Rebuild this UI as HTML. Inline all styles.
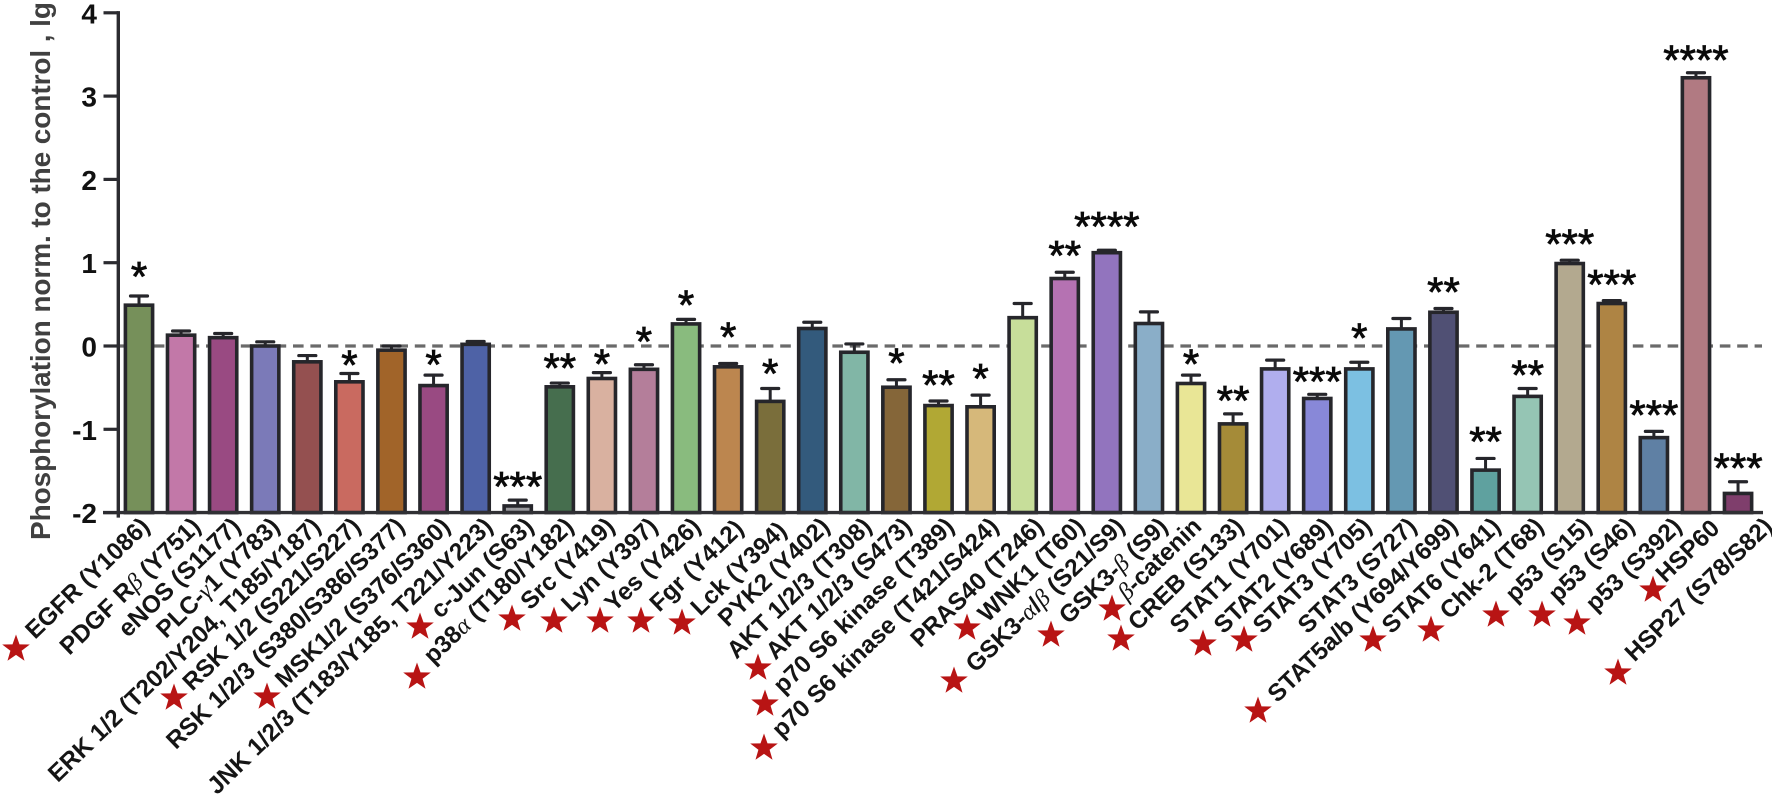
<!DOCTYPE html>
<html lang="en">
<head>
<meta charset="utf-8">
<title>Phosphorylation chart</title>
<style>
  html, body { margin: 0; padding: 0; background: #fff; }
  body { width: 1772px; height: 805px; overflow: hidden; }
  svg { display: block; font-family: "Liberation Sans", Arial, sans-serif; }
  .tick-label { font-size: 28px; font-weight: 700; fill: #111; text-anchor: end; }
  .x-label { font-size: 24.4px; font-weight: 700; fill: #151515; text-anchor: end; }
  .greek { font-family: "Liberation Serif", serif; font-style: italic; font-weight: 400; }
  .sig { font-size: 42px; fill: #0a0a0a; text-anchor: middle; stroke: #0a0a0a; stroke-width: .8px; }
  .star { fill: #b81414; }
</style>
</head>
<body>
<svg id="chart" xmlns="http://www.w3.org/2000/svg" width="1772" height="805" viewBox="0 0 1772 805">
  <defs>
    <polygon id="star-shape" points="0,-14.5 3.5,-4.6 13.8,-4.48 5.6,1.8 8.52,11.73 0,5.9 -8.52,11.73 -5.6,1.8 -13.8,-4.48 -3.5,-4.6"></polygon>
  </defs>
  <text x="50" y="540" transform="rotate(-90 50 540)" font-size="28" font-weight="700" fill="#404040" textLength="538" lengthAdjust="spacing">Phosphorylation norm. to the control , lg</text>
  <g id="grid"></g>
  <g id="bars"></g>
  <g id="axes"></g>
  <g>
    <text class="x-label" transform="translate(151 528) rotate(-44)">EGFR (Y1086)</text>
    <text class="x-label" transform="translate(202 528) rotate(-44)">PDGF R<tspan class="greek">β</tspan> (Y751)</text>
    <text class="x-label" transform="translate(242 528) rotate(-44)">eNOS (S1177)</text>
    <text class="x-label" transform="translate(281 528) rotate(-44)">PLC-<tspan class="greek">γ</tspan>1 (Y783)</text>
    <text class="x-label" transform="translate(322 528) rotate(-44)">ERK 1/2 (T202/Y204, T185/Y187)</text>
    <text class="x-label" transform="translate(362 528) rotate(-44)">RSK 1/2 (S221/S227)</text>
    <text class="x-label" transform="translate(406 528) rotate(-44)">RSK 1/2/3 (S380/S386/S377)</text>
    <text class="x-label" transform="translate(451.5 528) rotate(-44)">MSK1/2 (S376/S360)</text>
    <text class="x-label" transform="translate(494 528) rotate(-44)">JNK 1/2/3 (T183/Y185, T221/Y223)</text>
    <text class="x-label" transform="translate(535 528) rotate(-44)">c-Jun (S63)</text>
    <text class="x-label" transform="translate(575 528) rotate(-44)">p38<tspan class="greek">α</tspan> (T180/Y182)</text>
    <text class="x-label" transform="translate(616 528) rotate(-44)">Src (Y419)</text>
    <text class="x-label" transform="translate(659 528) rotate(-44)">Lyn (Y397)</text>
    <text class="x-label" transform="translate(702 528) rotate(-44)">Yes (Y426)</text>
    <text class="x-label" transform="translate(745 530) rotate(-44)">Fgr (Y412)</text>
    <text class="x-label" transform="translate(788 532) rotate(-44)">Lck (Y394)</text>
    <text class="x-label" transform="translate(831 528) rotate(-44)">PYK2 (Y402)</text>
    <text class="x-label" transform="translate(873 528) rotate(-44)">AKT 1/2/3 (T308)</text>
    <text class="x-label" transform="translate(913 528) rotate(-44)">AKT 1/2/3 (S473)</text>
    <text class="x-label" transform="translate(955.5 528) rotate(-44)">p70 S6 kinase (T389)</text>
    <text class="x-label" transform="translate(1000 528) rotate(-44)">p70 S6 kinase (T421/S424)</text>
    <text class="x-label" transform="translate(1045 528) rotate(-44)">PRAS40 (T246)</text>
    <text class="x-label" transform="translate(1086 528) rotate(-44)">WNK1 (T60)</text>
    <text class="x-label" transform="translate(1126 528) rotate(-44)">GSK3-<tspan class="greek">α</tspan>/<tspan class="greek">β</tspan> (S21/S9)</text>
    <text class="x-label" transform="translate(1169 528) rotate(-44)">GSK3-<tspan class="greek">β</tspan> (S9)</text>
    <text class="x-label" transform="translate(1203 528) rotate(-44)"><tspan class="greek">β</tspan>-catenin</text>
    <text class="x-label" transform="translate(1245 528) rotate(-44)">CREB (S133)</text>
    <text class="x-label" transform="translate(1290 528) rotate(-44)">STAT1 (Y701)</text>
    <text class="x-label" transform="translate(1334 528) rotate(-44)">STAT2 (Y689)</text>
    <text class="x-label" transform="translate(1373 528) rotate(-44)">STAT3 (Y705)</text>
    <text class="x-label" transform="translate(1418 528) rotate(-44)">STAT3 (S727)</text>
    <text class="x-label" transform="translate(1459 528) rotate(-44)">STAT5a/b (Y694/Y699)</text>
    <text class="x-label" transform="translate(1502 528) rotate(-44)">STAT6 (Y641)</text>
    <text class="x-label" transform="translate(1545 528) rotate(-44)">Chk-2 (T68)</text>
    <text class="x-label" transform="translate(1593 528) rotate(-44)">p53 (S15)</text>
    <text class="x-label" transform="translate(1636 528) rotate(-44)">p53 (S46)</text>
    <text class="x-label" transform="translate(1683 528) rotate(-44)">p53 (S392)</text>
    <text class="x-label" transform="translate(1721 530) rotate(-44)">HSP60</text>
    <text class="x-label" transform="translate(1774 528) rotate(-44)">HSP27 (S78/S82)</text>
  </g>
  <g id="sigs"></g>
  <g>
    <use class="star" href="#star-shape" x="16" y="649"></use>
    <use class="star" href="#star-shape" x="174" y="698"></use>
    <use class="star" href="#star-shape" x="267" y="697"></use>
    <use class="star" href="#star-shape" x="420" y="627"></use>
    <use class="star" href="#star-shape" x="417" y="677"></use>
    <use class="star" href="#star-shape" x="512" y="619"></use>
    <use class="star" href="#star-shape" x="554" y="621"></use>
    <use class="star" href="#star-shape" x="600" y="621"></use>
    <use class="star" href="#star-shape" x="641" y="621"></use>
    <use class="star" href="#star-shape" x="682" y="623"></use>
    <use class="star" href="#star-shape" x="758" y="668"></use>
    <use class="star" href="#star-shape" x="765" y="704"></use>
    <use class="star" href="#star-shape" x="764" y="748"></use>
    <use class="star" href="#star-shape" x="967" y="628"></use>
    <use class="star" href="#star-shape" x="954" y="681"></use>
    <use class="star" href="#star-shape" x="1051" y="635"></use>
    <use class="star" href="#star-shape" x="1112" y="609"></use>
    <use class="star" href="#star-shape" x="1121" y="639"></use>
    <use class="star" href="#star-shape" x="1203" y="644"></use>
    <use class="star" href="#star-shape" x="1244" y="640"></use>
    <use class="star" href="#star-shape" x="1258" y="711"></use>
    <use class="star" href="#star-shape" x="1373" y="640"></use>
    <use class="star" href="#star-shape" x="1431" y="630"></use>
    <use class="star" href="#star-shape" x="1496" y="615"></use>
    <use class="star" href="#star-shape" x="1542" y="615"></use>
    <use class="star" href="#star-shape" x="1577" y="623"></use>
    <use class="star" href="#star-shape" x="1653" y="590"></use>
    <use class="star" href="#star-shape" x="1618" y="673"></use>
  </g>
</svg>
<script>
const categories = ["EGFR (Y1086)","PDGF Rβ (Y751)","eNOS (S1177)","PLC-γ1 (Y783)","ERK 1/2 (T202/Y204, T185/Y187)","RSK 1/2 (S221/S227)","RSK 1/2/3 (S380/S386/S377)","MSK1/2 (S376/S360)","JNK 1/2/3 (T183/Y185, T221/Y223)","c-Jun (S63)","p38α (T180/Y182)","Src (Y419)","Lyn (Y397)","Yes (Y426)","Fgr (Y412)","Lck (Y394)","PYK2 (Y402)","AKT 1/2/3 (T308)","AKT 1/2/3 (S473)","p70 S6 kinase (T389)","p70 S6 kinase (T421/S424)","PRAS40 (T246)","WNK1 (T60)","GSK3-α/β (S21/S9)","GSK3-β (S9)","β-catenin","CREB (S133)","STAT1 (Y701)","STAT2 (Y689)","STAT3 (Y705)","STAT3 (S727)","STAT5a/b (Y694/Y699)","STAT6 (Y641)","Chk-2 (T68)","p53 (S15)","p53 (S46)","p53 (S392)","HSP60","HSP27 (S78/S82)"];
const values = [0.49,0.13,0.10,0,-0.19,-0.43,-0.05,-0.475,0.02,-1.92,-0.49,-0.39,-0.28,0.265,-0.25,-0.665,0.21,-0.075,-0.495,-0.715,-0.73,0.34,0.81,1.12,0.27,-0.45,-0.935,-0.275,-0.63,-0.275,0.205,0.405,-1.49,-0.605,0.99,0.51,-1.1,3.22,-1.77];
const errorTops = [0.60,0.18,0.15,0.05,-0.115,-0.33,0,-0.35,0.055,-1.85,-0.445,-0.32,-0.225,0.32,-0.21,-0.51,0.285,0.025,-0.405,-0.66,-0.59,0.51,0.885,1.15,0.41,-0.35,-0.815,-0.17,-0.58,-0.195,0.33,0.45,-1.35,-0.51,1.03,0.545,-1.025,3.28,-1.63];
const significance = ["*","","","","","*","","*","","***","**","*","*","*","*","*","","","*","**","*","","**","****","","*","**","","***","*","","**","**","**","***","***","***","****","***"];
const significanceLevels = [0.89,0,0,0,0,-0.176,0,-0.168,0,-1.63,-0.21,-0.16,0.11,0.545,0.165,-0.275,0,0,-0.15,-0.415,-0.335,0,1.14,1.49,0,-0.16,-0.6,0,-0.375,0.15,0,0.705,-1.09,-0.295,1.28,0.79,-0.775,3.49,-1.41];
const barColors = ["#76905a","#c278a8","#994a82","#7b7ab8","#945050","#c96a60","#a16429","#994a82","#4e62a6","#9a9a9e","#466e4e","#d9b1a0","#b47e9a","#89bb7e","#bc864f","#7a6e3b","#335a7c","#81b6a6","#856639","#b1a834","#d6b87a","#c7de9a","#b572b2","#9274be","#8aaec8","#e9e696","#a58b38","#b0aeee","#8888d8","#7cc0e2","#6498b2","#505074","#5fa19f","#95c5b4","#b3a98f","#ae8444","#5f80a4","#b17a82","#7f3e6c"];
const yTicks = [4,3,2,1,0,-1,-2];

const NS = "http://www.w3.org/2000/svg";
const yScale = v => 346 - 83.3 * v;
const xScale = i => 139 + 42.08 * i;
const DARK = "#26262b";
function mk(tag, parent, attrs) {
  const el = document.createElementNS(NS, tag);
  for (const k in attrs) el.setAttribute(k, attrs[k]);
  parent.appendChild(el);
  return el;
}
const gridG = document.getElementById("grid");
const barsG = document.getElementById("bars");
const axesG = document.getElementById("axes");
const sigsG = document.getElementById("sigs");

const zeroLine = mk("line", gridG, {x1: 119, x2: 1762, y1: yScale(0), y2: yScale(0), stroke: "#6a6a6a", "stroke-width": 3.2, "stroke-dasharray": "10.6 6.8"});



const base = yScale(-2);
categories.forEach((name, i) => {
  const cx = xScale(i);
  const w = 27.2;
  const top = yScale(values[i]);
  const errTop = yScale(errorTops[i]);
  const stem = mk("line", barsG, {x1: cx, x2: cx, y1: errTop, y2: top, stroke: DARK, "stroke-width": 3});
  
  
  const cap = mk("line", barsG, {x1: cx - 8.5, x2: cx + 8.5, y1: errTop, y2: errTop, stroke: DARK, "stroke-width": 3.2, "stroke-linecap": "round"});
  
  
  const bar = mk("rect", barsG, {x: cx - w / 2, y: top, width: w, height: base - top, fill: barColors[i], stroke: DARK, "stroke-width": 3.6});
  
  

  if (significance[i]) {
    const sig = mk("text", sigsG, {class: "sig", x: cx, y: yScale(significanceLevels[i]) + 19});
    
    
    sig.textContent = significance[i];
  }
});

const xAxis = mk("line", axesG, {x1: 103, x2: 1763, y1: base, y2: base, stroke: "#303034", "stroke-width": 3.4});


const yAxis = mk("line", axesG, {x1: 118.3, x2: 118.3, y1: yScale(4) - 1.7, y2: base + 5, stroke: "#2b2b30", "stroke-width": 3.4});


yTicks.forEach(t => {
  const y = yScale(t);
  const tick = mk("line", axesG, {x1: 103.5, x2: 118.3, y1: y, y2: y, stroke: "#2b2b30", "stroke-width": 3.2});
  
  
  const lab = mk("text", axesG, {class: "tick-label", x: 97, y: y + 10.5});
  
  
  lab.textContent = t;
});
</script>
</body>
</html>
